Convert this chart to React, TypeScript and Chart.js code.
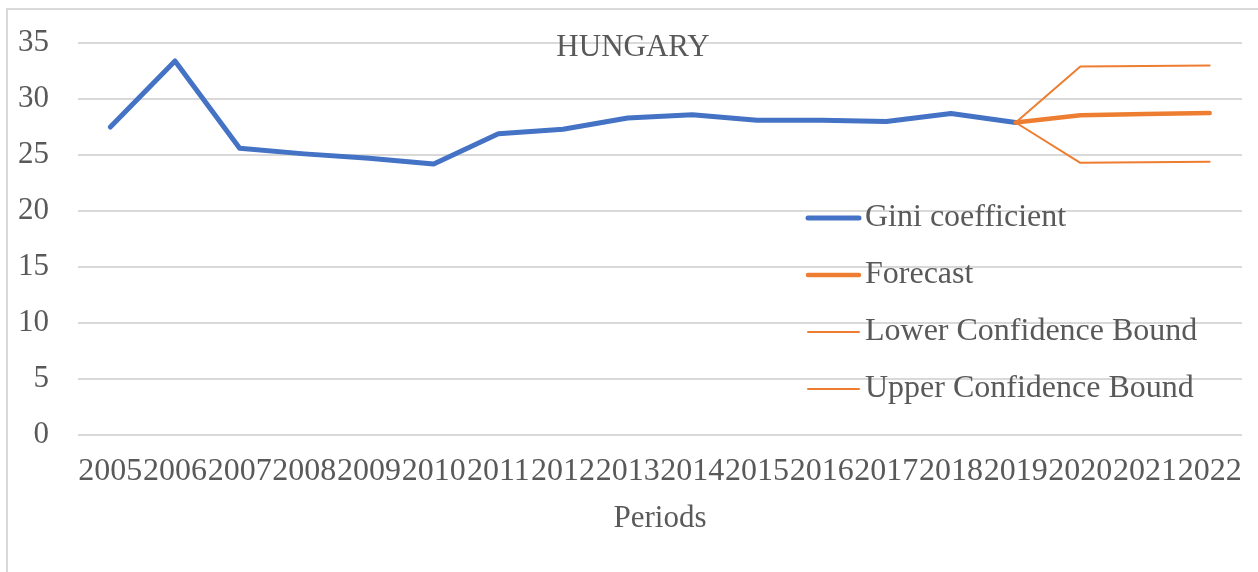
import React, { useEffect, useRef } from "react";
import { Chart, registerables } from "chart.js";

Chart.register(...registerables);

const years = [
  "2005", "2006", "2007", "2008", "2009", "2010", "2011", "2012", "2013",
  "2014", "2015", "2016", "2017", "2018", "2019", "2020", "2021", "2022",
];
const giniValues = [
  27.5, 33.4, 25.6, 25.1, 24.7, 24.2, 26.9, 27.3, 28.3,
  28.6, 28.1, 28.1, 28.0, 28.7, 27.9, null, null, null,
];
const forecastValues = [
  null, null, null, null, null, null, null, null, null,
  null, null, null, null, null, 27.9, 28.55, 28.65, 28.75,
];
const lowerBoundValues = [
  null, null, null, null, null, null, null, null, null,
  null, null, null, null, null, 27.9, 24.3, 24.35, 24.4,
];
const upperBoundValues = [
  null, null, null, null, null, null, null, null, null,
  null, null, null, null, null, 27.9, 32.9, 32.95, 33.0,
];
const seriesNames = [
  "Gini coefficient",
  "Forecast",
  "Lower Confidence Bound",
  "Upper Confidence Bound",
];
const yMin = 0;
const yMax = 35;
const yStep = 5;
const chartTitle = "HUNGARY";
const xAxisTitle = "Periods";

const FONT = "'Liberation Serif', 'Times New Roman', serif";
const TEXT = "#595959";
const BLUE = "#4472C4";
const ORANGE = "#ED7D31";
const GRID = "#d9d9d9";

const titlePlugin = {
  id: "insideTitle",
  afterDraw(chart: any) {
    const { ctx } = chart;
    ctx.save();
    ctx.fillStyle = TEXT;
    ctx.font = `31px ${FONT}`;
    ctx.textAlign = "center";
    ctx.textBaseline = "middle";
    ctx.fillText(chartTitle, chart.width / 2, 37.5);
    ctx.restore();
  },
};

const legendPlugin = {
  id: "insideLegend",
  afterDraw(chart: any) {
    const { ctx, chartArea } = chart;
    const x0 = chartArea.right - 436;
    const y0 = chartArea.top + 175;
    chart.data.datasets.forEach((ds: any, i: number) => {
      const y = y0 + i * 57;
      ctx.save();
      ctx.strokeStyle = ds.borderColor;
      ctx.lineWidth = ds.borderWidth;
      ctx.lineCap = "round";
      ctx.beginPath();
      ctx.moveTo(x0 + 2, y);
      ctx.lineTo(x0 + 53, y);
      ctx.stroke();
      ctx.fillStyle = TEXT;
      ctx.font = `32px ${FONT}`;
      ctx.textAlign = "left";
      ctx.textBaseline = "middle";
      ctx.fillText(ds.label, x0 + 59, y);
      ctx.restore();
    });
  },
};

export default function App() {
  const canvasRef = useRef<HTMLCanvasElement | null>(null);

  useEffect(() => {
    const canvas = canvasRef.current;
    if (!canvas) return;
    const mk = (label: string, data: any[], color: string, width: number, order: number) => ({
      label,
      data,
      borderColor: color,
      backgroundColor: color,
      borderWidth: width,
      pointRadius: 0,
      pointHoverRadius: 0,
      tension: 0,
      fill: false,
      spanGaps: false,
      borderJoinStyle: "round" as const,
      borderCapStyle: "round" as const,
      order,
    });
    const chart = new Chart(canvas, {
      type: "line",
      data: {
        labels: years,
        datasets: [
          mk(seriesNames[0], giniValues, BLUE, 5, 4),
          mk(seriesNames[1], forecastValues, ORANGE, 4.5, 1),
          mk(seriesNames[2], lowerBoundValues, ORANGE, 2, 2),
          mk(seriesNames[3], upperBoundValues, ORANGE, 2, 3),
        ],
      },
      options: {
        responsive: false,
        animation: false,
        events: [],
        layout: { padding: { top: 33, right: 16, left: 0, bottom: 0 } },
        plugins: {
          legend: { display: false },
          title: { display: false },
          tooltip: { enabled: false },
        },
        scales: {
          x: {
            type: "category",
            offset: true,
            grid: { display: false, drawTicks: false },
            border: { display: false },
            ticks: {
              autoSkip: false,
              maxRotation: 0,
              minRotation: 0,
              padding: 17,
              color: TEXT,
              font: { family: FONT, size: 32 },
            },
            title: {
              display: true,
              text: xAxisTitle,
              color: TEXT,
              font: { family: FONT, size: 31 },
              padding: { top: 0, bottom: 35 },
            },
            afterFit(scale: any) {
              scale.height = 137;
              scale.paddingLeft = 0;
              scale.paddingRight = 0;
            },
          },
          y: {
            min: yMin,
            max: yMax,
            grid: { color: GRID, lineWidth: 2, drawTicks: false },
            border: { display: false },
            ticks: {
              stepSize: yStep,
              padding: 29,
              color: TEXT,
              font: { family: FONT, size: 31 },
            },
            afterFit(scale: any) {
              scale.width = 70;
              scale.paddingTop = 0;
              scale.paddingBottom = 0;
            },
          },
        },
      },
      plugins: [titlePlugin, legendPlugin],
    });
    return () => chart.destroy();
  }, []);

  return (
    <div
      style={{
        position: "fixed",
        left: 6,
        top: 8,
        right: 0,
        bottom: 0,
        borderLeft: `2px solid ${GRID}`,
        borderTop: `2px solid ${GRID}`,
        background: "#fff",
      }}
    >
      <canvas
        ref={canvasRef}
        width={1250}
        height={562}
        style={{ display: "block", width: 1250, height: 562 }}
      />
    </div>
  );
}
